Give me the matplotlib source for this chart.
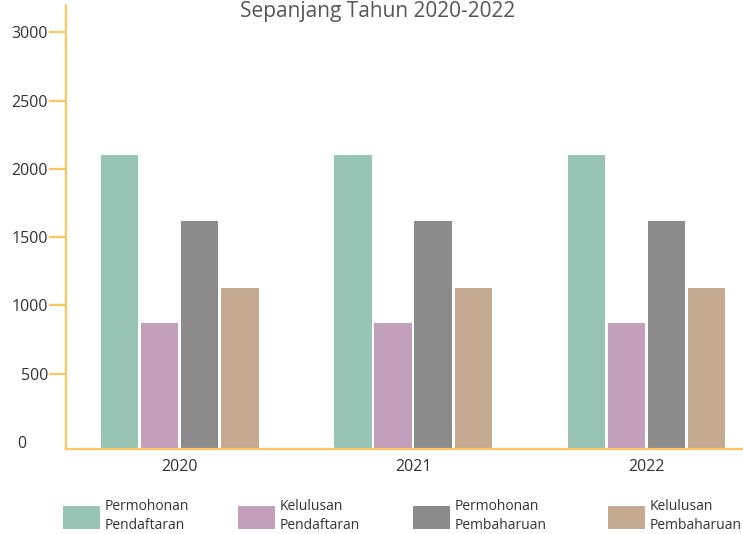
import numpy as np
import matplotlib.pyplot as plt
from matplotlib.patches import Patch
from matplotlib.transforms import ScaledTranslation

plt.rcParams['font.family'] = ['Open Sans', 'DejaVu Sans']

# data
years = ["2020", "2021", "2022"]
series_names = ["Permohonan\nPendaftaran", "Kelulusan\nPendaftaran",
                "Permohonan\nPembaharuan", "Kelulusan\nPembaharuan"]
permohonan_pendaftaran = [2100, 2100, 2100]
kelulusan_pendaftaran = [870, 870, 870]
permohonan_pembaharuan = [1620, 1620, 1620]
kelulusan_pembaharuan = [1125, 1125, 1125]
yticks = [0, 500, 1000, 1500, 2000, 2500, 3000]

colors = ["#97C4B4", "#C29FBB", "#8B8B8C", "#C5AA92"]
axis_col = "#FFC660"

fig = plt.figure(figsize=(7.43, 5.34), dpi=100)
ax = fig.add_axes([66 / 743, 1 - 449 / 534, 1 - 66 / 743, (449 - 5) / 534])

ybot = -51
x = np.arange(len(years))
width = 0.159
pitch = 0.1717
all_series = [permohonan_pendaftaran, kelulusan_pendaftaran,
              permohonan_pembaharuan, kelulusan_pembaharuan]
for i, vals in enumerate(all_series):
    off = (i - 1.5) * pitch
    ax.bar(x + off, np.array(vals) - ybot, width, bottom=ybot,
           color=colors[i], zorder=2)

ax.set_xlim(-0.489, 2.416)
ax.set_ylim(ybot, 3200)

for s in ["top", "right"]:
    ax.spines[s].set_visible(False)
for s in ["left", "bottom"]:
    ax.spines[s].set_color(axis_col)
    ax.spines[s].set_linewidth(1.6)

ax.set_yticks(yticks)
ax.set_yticklabels([str(v) for v in yticks])
ax.tick_params(axis="y", length=12, width=1.6, color=axis_col,
               labelsize=11.5, labelcolor="#333333", pad=1)
ax.yaxis.get_major_ticks()[0].tick1line.set_visible(False)
lab0 = ax.get_yticklabels()[0]
lab0.set_transform(lab0.get_transform() + ScaledTranslation(-0.22, 0, fig.dpi_scale_trans))

ax.set_xticks(x)
ax.set_xticklabels(years)
ax.tick_params(axis="x", length=0, labelsize=11.5, labelcolor="#333333", pad=7)

fig.text(378 / 743, 1 - 17 / 534, "Sepanjang Tahun 2020-2022", ha="center", va="baseline",
         fontsize=15, color="#555555")

# legend: one entry per block, as in the reference
leg_x = [62, 237, 412, 607]
for i, name in enumerate(series_names):
    h = Patch(facecolor=colors[i], edgecolor="none")
    leg = fig.legend([h], [name], loc="lower left",
                     bbox_to_anchor=(leg_x[i] / 743, 0.0), bbox_transform=fig.transFigure,
                     frameon=False, fontsize=10, handlelength=2.7, handleheight=2.1,
                     handletextpad=0.3, borderpad=0.05, borderaxespad=0.0,
                     labelcolor="#333333")
    for t in leg.get_texts():
        t.set_linespacing(1.35)

fig.savefig("out.png", dpi=100)
